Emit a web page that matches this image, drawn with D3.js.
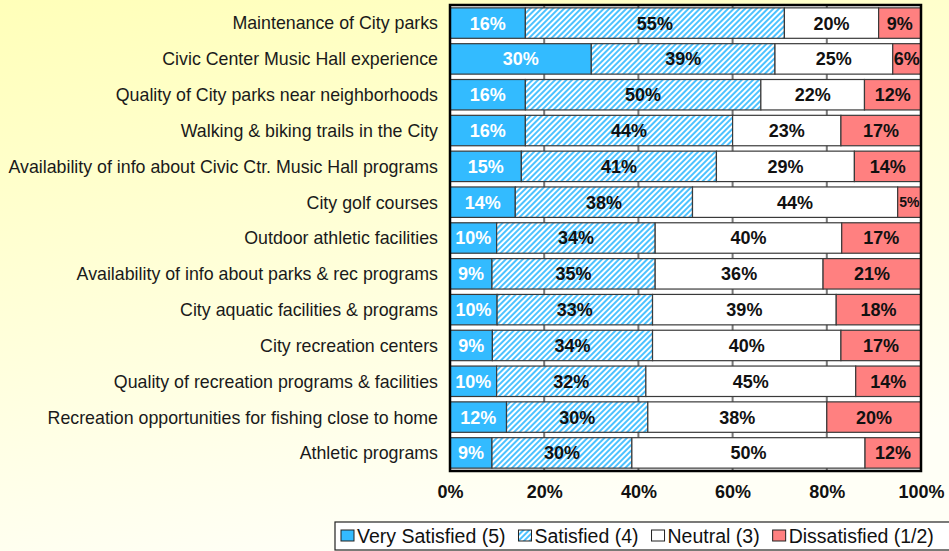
<!DOCTYPE html>
<html lang="en">
<head>
    <meta charset="UTF-8">
    <title>Satisfaction with Parks & Recreation</title>
    <script src="https://cdn.jsdelivr.net/npm/d3@7/dist/d3.min.js"></script>
    <style>
        html, body { margin: 0; padding: 0; }
        body { width: 949px; height: 551px; overflow: hidden; }
        svg { display: block; font-family: "Liberation Sans", Arial, sans-serif; }
    </style>
</head>
<body>
    <div id="chart"></div>

    <script>
        // Survey items, top to bottom
        const categories = [
            'Maintenance of City parks',
            'Civic Center Music Hall experience',
            'Quality of City parks near neighborhoods',
            'Walking & biking trails in the City',
            'Availability of info about Civic Ctr. Music Hall programs',
            'City golf courses',
            'Outdoor athletic facilities',
            'Availability of info about parks & rec programs',
            'City aquatic facilities & programs',
            'City recreation centers',
            'Quality of recreation programs & facilities',
            'Recreation opportunities for fishing close to home',
            'Athletic programs'
        ];

        // Percent values per series (same order as categories)
        const verySatisfied = [16, 30, 16, 16, 15, 14, 10, 9, 10, 9, 10, 12, 9];
        const satisfied     = [55, 39, 50, 44, 41, 38, 34, 35, 33, 34, 32, 30, 30];
        const neutral       = [20, 25, 22, 23, 29, 44, 40, 36, 39, 40, 45, 38, 50];
        const dissatisfied  = [9, 6, 12, 17, 14, 5, 17, 21, 18, 17, 14, 20, 12];

        const seriesNames = ['Very Satisfied (5)', 'Satisfied (4)', 'Neutral (3)', 'Dissatisfied (1/2)'];
        const tickValues = [0, 0.2, 0.4, 0.6, 0.8, 1];

        const width = 949, height = 551;
        const plot = { left: 450, right: 921, top: 5, bottom: 471 };

        const keys = ['vs', 's', 'n', 'd'];
        const rows = categories.map((c, i) => ({
            cat: c, vs: verySatisfied[i], s: satisfied[i], n: neutral[i], d: dissatisfied[i]
        }));

        const stacked = d3.stack().keys(keys).offset(d3.stackOffsetExpand)(rows);

        const x = d3.scaleLinear().domain([0, 1]).range([plot.left, plot.right]);
        const y = d3.scaleBand().domain(categories).range([plot.top, plot.bottom]).paddingInner(0.15).paddingOuter(0.08);

        const svg = d3.select('#chart').append('svg')
            .attr('width', width)
            .attr('height', height);

        const defs = svg.append('defs');
        const bg = defs.append('linearGradient')
            .attr('id', 'bg').attr('x1', 0).attr('y1', 0).attr('x2', 0.35).attr('y2', 1);
        bg.append('stop').attr('offset', '0%').attr('stop-color', '#ffffb9');
        bg.append('stop').attr('offset', '100%').attr('stop-color', '#fffff6');

        const hatch = defs.append('pattern')
            .attr('id', 'hatch')
            .attr('patternUnits', 'userSpaceOnUse')
            .attr('width', 4).attr('height', 4)
            .attr('patternTransform', 'rotate(45)');
        hatch.append('rect').attr('width', 4).attr('height', 4).attr('fill', '#ffffff');
        hatch.append('rect').attr('width', 2).attr('height', 4).attr('fill', '#4cc2ff');

        const fills = { vs: '#33bbff', s: 'url(#hatch)', n: '#ffffff', d: '#ff8080' };
        const textColors = { vs: '#ffffff', s: '#111111', n: '#111111', d: '#111111' };

        svg.append('rect').attr('width', width).attr('height', height).attr('fill', 'url(#bg)');

        // plot area
        svg.append('rect')
            .attr('x', plot.left).attr('y', plot.top)
            .attr('width', plot.right - plot.left).attr('height', plot.bottom - plot.top)
            .attr('fill', '#ffffff');

        // gridlines
        svg.append('g')
            .selectAll('line')
            .data(tickValues.slice(1, -1))
            .join('line')
            .attr('x1', d => x(d)).attr('x2', d => x(d))
            .attr('y1', plot.top).attr('y2', plot.bottom)
            .attr('stroke', '#777777')
            .attr('stroke-width', 2);

        // bars
        const groups = svg.append('g')
            .selectAll('g')
            .data(stacked)
            .join('g');

        groups.selectAll('rect')
            .data(s => s.map(d => ({ key: s.key, d })))
            .join('rect')
            .attr('x', p => x(p.d[0]))
            .attr('y', p => y(p.d.data.cat))
            .attr('width', p => x(p.d[1]) - x(p.d[0]))
            .attr('height', y.bandwidth())
            .attr('fill', p => fills[p.key])
            .attr('stroke', '#3a3a3a')
            .attr('stroke-width', 1.2);

        // value labels
        const labels = svg.append('g');
        stacked.forEach(s => {
            s.forEach(d => {
                const x0 = x(d[0]), x1 = x(d[1]);
                const t = labels.append('text')
                    .attr('x', (x0 + x1) / 2)
                    .attr('y', y(d.data.cat) + y.bandwidth() / 2)
                    .attr('dy', '0.36em')
                    .attr('text-anchor', 'middle')
                    .attr('font-size', 18)
                    .attr('font-weight', 'bold')
                    .attr('fill', textColors[s.key])
                    .text(d.data[s.key] + '%');
                const w = t.node().getComputedTextLength();
                if (w > x1 - x0 - 1) t.attr('font-size', 14);
            });
        });

        // frame
        svg.append('rect')
            .attr('x', plot.left).attr('y', plot.top)
            .attr('width', plot.right - plot.left).attr('height', plot.bottom - plot.top)
            .attr('fill', 'none')
            .attr('stroke', '#000000')
            .attr('stroke-width', 2.5);

        // category labels
        svg.append('g')
            .selectAll('text')
            .data(categories)
            .join('text')
            .attr('x', 438)
            .attr('y', d => y(d) + y.bandwidth() / 2)
            .attr('dy', '0.36em')
            .attr('text-anchor', 'end')
            .attr('font-size', 17.8)
            .attr('fill', '#1a1a1a')
            .text(d => d);

        // x axis
        const xAxis = svg.append('g')
            .attr('transform', `translate(0,${plot.bottom})`)
            .call(d3.axisBottom(x).tickValues(tickValues).tickFormat(d3.format('.0%')).tickSize(0).tickPadding(14));
        xAxis.select('.domain').remove();
        xAxis.selectAll('text')
            .attr('font-family', '"Liberation Sans", Arial, sans-serif')
            .attr('font-size', 18)
            .attr('font-weight', 'bold')
            .attr('fill', '#111111');

        // legend (box runs off the right edge, as in the original)
        const legend = svg.append('g');
        legend.append('rect')
            .attr('x', 335).attr('y', 522)
            .attr('width', 640).attr('height', 28)
            .attr('fill', '#ffffff')
            .attr('stroke', '#222222')
            .attr('stroke-width', 1.2);
        let lx = 341;
        seriesNames.forEach((name, i) => {
            legend.append('rect')
                .attr('x', lx).attr('y', 530)
                .attr('width', 13).attr('height', 11)
                .attr('fill', fills[keys[i]])
                .attr('stroke', '#222222')
                .attr('stroke-width', 1);
            const t = legend.append('text')
                .attr('x', lx + 16).attr('y', 543)
                .attr('font-size', 19.5)
                .attr('fill', '#111111')
                .text(name);
            lx += 16 + t.node().getComputedTextLength() + 13;
        });
    </script>
</body>
</html>
